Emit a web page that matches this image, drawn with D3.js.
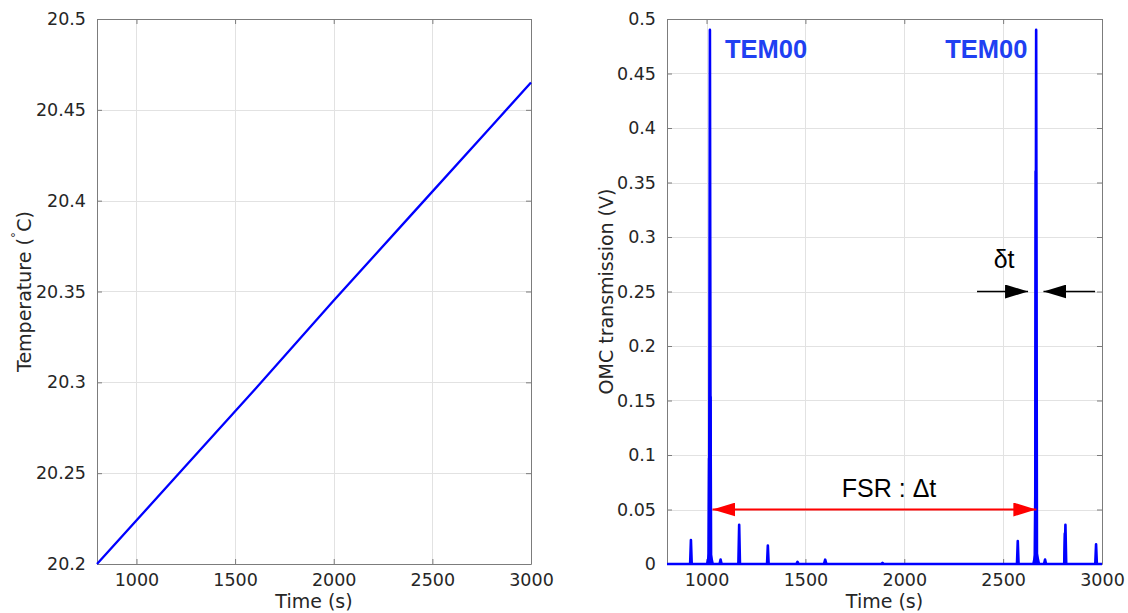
<!DOCTYPE html>
<html>
<head>
<meta charset="UTF-8">
<title>Temperature scan and OMC transmission</title>
<script src="https://d3js.org/d3.v7.min.js"></script>
<style>
  body { margin: 0; background: #fff; }
  svg text { font-family: "DejaVu Sans", sans-serif; fill: #262626; }
</style>
</head>
<body>
<div id="chart"></div>
<script>
// ---- data ----
var timeTicks = [1000, 1500, 2000, 2500, 3000];
var tempTicks = [20.2, 20.25, 20.3, 20.35, 20.4, 20.45, 20.5];
var omcTicks = [0, 0.05, 0.1, 0.15, 0.2, 0.25, 0.3, 0.35, 0.4, 0.45, 0.5];

// left panel: temperature ramp
var tempTime  = [800, 1200, 1600, 2000, 2400, 2800, 3000];
var tempValue = [20.2, 20.248, 20.296, 20.345, 20.393, 20.441, 20.465];

// right panel: resonances seen in the OMC transmission
var peakTime   = [921, 1013, 1017, 1017, 1020, 1071, 1165, 1310, 1460, 1600, 1890, 2574, 2663, 2665, 2667, 2667, 2712, 2812, 2815, 2970];
var peakHeight = [0.022, 0.097, 0.012, 0.49, 0.153, 0.004, 0.036, 0.017, 0.002, 0.004, 0.001, 0.021, 0.07, 0.36, 0.012, 0.49, 0.004, 0.028, 0.036, 0.018];
var peakWidth  = [4, 3, 14, 4, 3, 5, 4, 4, 5, 6, 5, 4, 3, 3, 14, 4, 5, 3, 4, 4];

// annotations
var tem00Labels = [1093, 2207];   // left edge of each label, at 0.464 V
var fsrArrow = [1030, 2668];      // time range of the red arrow, at 0.05 V
var deltaArrows = [[2368, 2626], [2965, 2704]];  // [tail, tip] at 0.25 V

// ---- layout ----
var W = 1128, H = 613;
var yTop = 19, yBot = 564;
var leftBox = {x0: 97, x1: 531};
var rightBox = {x0: 667, x1: 1102};

var svg = d3.select("#chart").append("svg")
  .attr("width", W).attr("height", H);

var defs = svg.append("defs");
function marker(id, color) {
  defs.append("marker")
    .attr("id", id)
    .attr("markerUnits", "userSpaceOnUse")
    .attr("viewBox", "0 0 23 14")
    .attr("refX", 23).attr("refY", 7)
    .attr("markerWidth", 23).attr("markerHeight", 14)
    .attr("orient", "auto-start-reverse")
    .append("path")
      .attr("d", "M0,0 L23,7 L0,14 Z")
      .attr("fill", color);
}
marker("headRed", "#ff0000");
marker("headBlack", "#000000");

function drawAxes(box, y, yTicks, yLabel) {
  var x = d3.scaleLinear().domain([800, 3000]).range([box.x0, box.x1]);
  var g = svg.append("g");
  var fmt = function(d) { return String(+d.toFixed(2)); };

  // grid
  g.append("g").selectAll("line").data(timeTicks).enter().append("line")
    .attr("x1", function(d) { return Math.round(x(d)) + 0.5; })
    .attr("x2", function(d) { return Math.round(x(d)) + 0.5; })
    .attr("y1", yTop).attr("y2", yBot)
    .attr("stroke", "#e2e2e2");
  g.append("g").selectAll("line").data(yTicks).enter().append("line")
    .attr("y1", function(d) { return Math.round(y(d)) + 0.5; })
    .attr("y2", function(d) { return Math.round(y(d)) + 0.5; })
    .attr("x1", box.x0).attr("x2", box.x1)
    .attr("stroke", "#e2e2e2");

  var axB = g.append("g").attr("transform", "translate(0," + yBot + ")")
    .call(d3.axisBottom(x).tickValues(timeTicks).tickSizeInner(-5).tickSizeOuter(0).tickPadding(9.5).tickFormat(fmt));
  var axT = g.append("g").attr("transform", "translate(0," + yTop + ")")
    .call(d3.axisTop(x).tickValues(timeTicks).tickSizeInner(-5).tickSizeOuter(0).tickFormat(""));
  var axL = g.append("g").attr("transform", "translate(" + box.x0 + ",0)")
    .call(d3.axisLeft(y).tickValues(yTicks).tickSizeInner(-5).tickSizeOuter(0).tickPadding(11).tickFormat(fmt));
  var axR = g.append("g").attr("transform", "translate(" + box.x1 + ",0)")
    .call(d3.axisRight(y).tickValues(yTicks).tickSizeInner(-5).tickSizeOuter(0).tickFormat(""));

  [axB, axT, axL, axR].forEach(function(a) {
    a.selectAll("path, line").attr("stroke", "#7c7c7c");
    a.selectAll("text").style("font-size", "17.5px").attr("fill", "#262626");
  });

  g.append("text")
    .attr("x", (box.x0 + box.x1) / 2).attr("y", 608)
    .attr("text-anchor", "middle").style("font-size", "19px")
    .text("Time (s)");

  var yl = g.append("text")
    .attr("text-anchor", "middle").style("font-size", "19px");
  yLabel(yl);
  return x;
}

// ---- left panel ----
var yT = d3.scaleLinear().domain([20.2, 20.5]).range([yBot, yTop]);
var xL = drawAxes(leftBox, yT, tempTicks, function(t) {
  t.attr("transform", "translate(" + 31 + "," + ((yTop + yBot) / 2) + ") rotate(-90)");
  t.append("tspan").text("Temperature (");
  t.append("tspan").attr("dy", -8).style("font-size", "13px").text("\u02DA");
  t.append("tspan").attr("dy", 8).text("C)");
});

svg.append("path")
  .datum(tempTime.map(function(d, i) { return [d, tempValue[i]]; }))
  .attr("d", d3.line().x(function(d) { return xL(d[0]); }).y(function(d) { return yT(d[1]); }))
  .attr("fill", "none").attr("stroke", "#0000ff").attr("stroke-width", 2.3);

// ---- right panel ----
var yO = d3.scaleLinear().domain([0, 0.5]).range([yBot, yTop]);
var xR = drawAxes(rightBox, yO, omcTicks, function(t) {
  t.attr("transform", "translate(" + 613 + "," + ((yTop + yBot) / 2) + ") rotate(-90)");
  t.text("OMC transmission (V)");
});

var line = d3.line().x(function(d) { return xR(d[0]); }).y(function(d) { return yO(d[1]); });
var trace = svg.append("g")
  .attr("fill", "none").attr("stroke", "#0000ff").attr("stroke-width", 2.6)
  .attr("stroke-linejoin", "round");
trace.append("path").attr("d", line([[800, 0], [3000, 0]]));
trace.selectAll("path.peak")
  .data(peakTime.map(function(t, i) { return [t, peakHeight[i], peakWidth[i]]; }))
  .enter().append("path").attr("class", "peak")
  .attr("d", function(p) { return line([[p[0] - p[2], 0], [p[0], p[1]], [p[0] + p[2], 0]]); });

// TEM00 labels
svg.selectAll("text.tem").data(tem00Labels).enter().append("text")
  .attr("class", "tem")
  .attr("x", function(d) { return xR(d); })
  .attr("y", yO(0.464))
  .style("font-family", "'Liberation Sans', Arial, sans-serif")
  .style("font-weight", "bold").style("font-size", "25.5px")
  .style("fill", "#2040f2")
  .text("TEM00");

// FSR arrow
svg.append("line")
  .attr("x1", xR(fsrArrow[0])).attr("x2", xR(fsrArrow[1]))
  .attr("y1", yO(0.05)).attr("y2", yO(0.05))
  .attr("stroke", "#ff0000").attr("stroke-width", 2)
  .attr("marker-start", "url(#headRed)").attr("marker-end", "url(#headRed)");
svg.append("text")
  .attr("x", xR(1923)).attr("y", yO(0.0615))
  .attr("text-anchor", "middle")
  .style("font-family", "'Liberation Sans', Arial, sans-serif").style("font-size", "25px")
  .style("fill", "#000")
  .text("FSR : \u0394t");

// delta-t arrows
deltaArrows.forEach(function(a) {
  svg.append("line")
    .attr("x1", xR(a[0])).attr("x2", xR(a[1]))
    .attr("y1", yO(0.25)).attr("y2", yO(0.25))
    .attr("stroke", "#000").attr("stroke-width", 1.6)
    .attr("marker-end", "url(#headBlack)");
});
svg.append("text")
  .attr("x", xR(2505)).attr("y", yO(0.2716))
  .attr("text-anchor", "middle")
  .style("font-family", "'Liberation Sans', Arial, sans-serif").style("font-size", "25px")
  .style("fill", "#000")
  .text("\u03B4t");
</script>
</body>
</html>
